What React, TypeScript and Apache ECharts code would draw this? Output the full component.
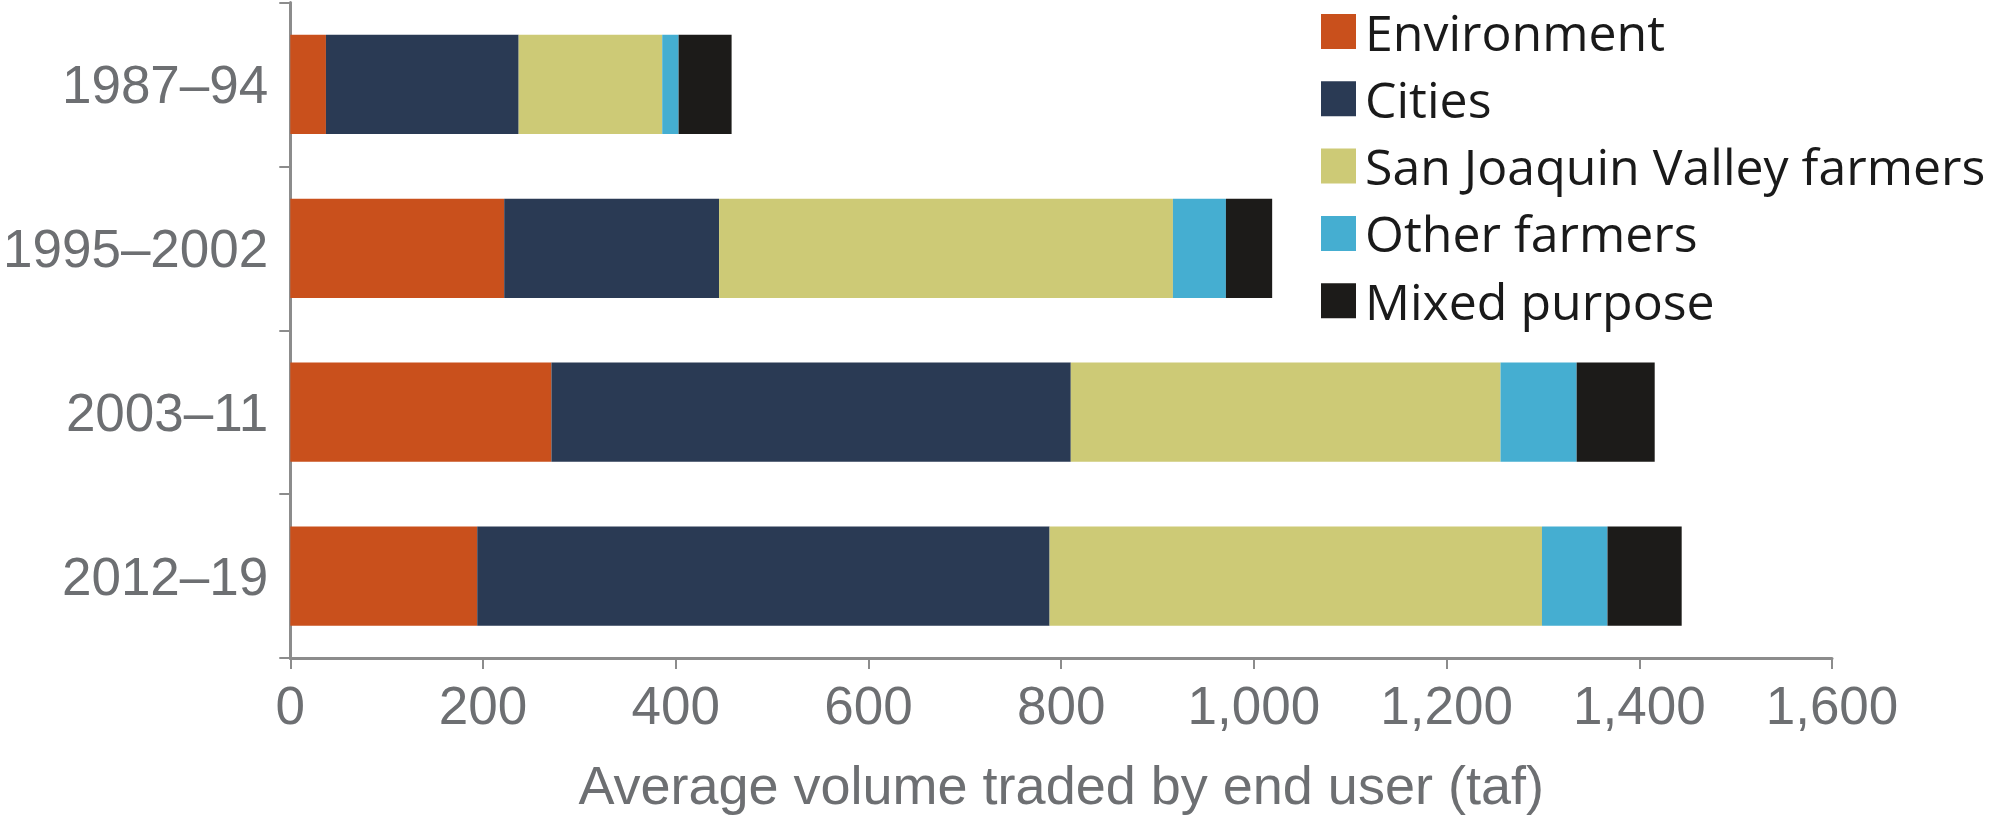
import React, { useEffect, useRef } from "react";
import * as echarts from "echarts";

const categories = ["1987–94", "1995–2002", "2003–11", "2012–19"];
const seriesNames = [
  "Environment",
  "Cities",
  "San Joaquin Valley farmers",
  "Other farmers",
  "Mixed purpose",
];
const environment = [37, 222, 271, 194];
const cities = [200, 223, 539, 594];
const sjvFarmers = [149, 471, 446, 511];
const otherFarmers = [17, 55, 79, 68];
const mixedPurpose = [55, 48, 81, 77];
const colors = ["#C9501C", "#2A3A54", "#CDCA76", "#45AED1", "#1C1B19"];
const xTitle = "Average volume traded by end user (taf)";

export default function App() {
  const ref = useRef<HTMLDivElement>(null);
  useEffect(() => {
    if (!ref.current) return;
    const chart = echarts.init(ref.current, undefined, { renderer: "svg" });
    const values = [environment, cities, sjvFarmers, otherFarmers, mixedPurpose];
    const axisGray = "#8c8c8c";
    const labelGray = "#6d6f72";
    chart.setOption({
      animation: false,
      backgroundColor: "#ffffff",
      grid: { left: 288.5, right: 168, top: 2.5, bottom: 166, containLabel: false },
      legend: {
        orient: "vertical",
        left: 1316,
        top: 1.5,
        itemWidth: 35,
        itemHeight: 35,
        itemGap: 17.3,
        icon: "rect",
        selectedMode: false,
        data: seriesNames,
        textStyle: {
          fontFamily: "Open Sans",
          fontSize: 50,
          lineHeight: 50,
          color: "#1a1a1a",
          padding: [0, 0, 0, 4],
        },
      },
      xAxis: {
        type: "value",
        min: 0,
        max: 1600,
        interval: 200,
        name: xTitle,
        nameLocation: "middle",
        nameGap: 100,
        nameTextStyle: { fontFamily: "Liberation Sans", fontSize: 54, color: labelGray, verticalAlign: "top" },
        splitLine: { show: false },
        axisLine: { show: true, lineStyle: { color: axisGray, width: 3 } },
        axisTick: { show: true, length: 11, lineStyle: { color: axisGray, width: 2 } },
        axisLabel: {
          fontFamily: "Liberation Sans",
          fontSize: 53,
          color: labelGray,
          margin: 21,
          formatter: (v: number) => v.toLocaleString("en-US"),
        },
      },
      yAxis: {
        type: "category",
        data: categories,
        inverse: true,
        axisLine: { show: true, lineStyle: { color: axisGray, width: 3 } },
        axisTick: { show: true, length: 11, lineStyle: { color: axisGray, width: 2 } },
        axisLabel: { fontFamily: "Liberation Sans", fontSize: 53, color: labelGray, margin: 22 },
      },
      series: seriesNames.map((name, i) => ({
        name,
        type: "bar",
        stack: "total",
        barWidth: "60.5%",
        itemStyle: { color: colors[i] },
        emphasis: { disabled: true },
        data: values[i],
      })),
    });
    return () => chart.dispose();
  }, []);
  return (
    <div
      ref={ref}
      style={{ position: "fixed", left: 0, top: 0, width: 2000, height: 824 }}
    />
  );
}
